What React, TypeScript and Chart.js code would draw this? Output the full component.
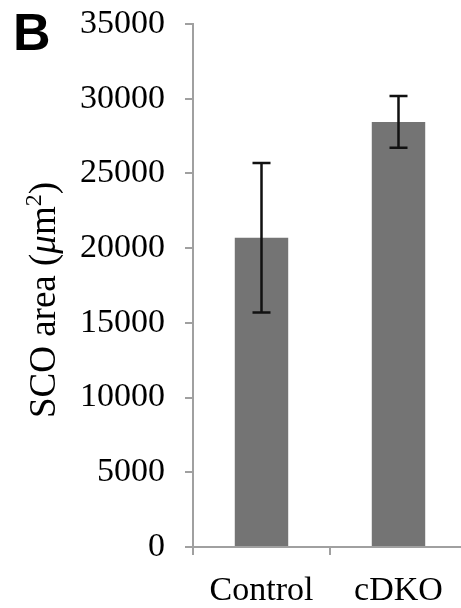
import React, { useEffect, useRef } from "react";
import { Chart, registerables } from "chart.js";

Chart.register(...registerables);

const categories = ["Control", "cDKO"];
const means = [20700, 28450];
const errors = [5000, 1730];
const yTicks = [0, 5000, 10000, 15000, 20000, 25000, 30000, 35000];

const SERIF = "'Liberation Serif', 'Times New Roman', serif";

const errorBarPlugin = {
  id: "errorBars",
  afterDatasetsDraw(chart: any) {
    const ctx = chart.ctx;
    const meta = chart.getDatasetMeta(0);
    const y = chart.scales.y;
    ctx.save();
    ctx.strokeStyle = "#111111";
    ctx.lineWidth = 2.5;
    meta.data.forEach((bar: any, i: number) => {
      const x = bar.x;
      const top = y.getPixelForValue(means[i] + errors[i]);
      const bot = y.getPixelForValue(means[i] - errors[i]);
      ctx.beginPath();
      ctx.moveTo(x, top);
      ctx.lineTo(x, bot);
      ctx.moveTo(x - 9, top);
      ctx.lineTo(x + 9, top);
      ctx.moveTo(x - 9, bot);
      ctx.lineTo(x + 9, bot);
      ctx.stroke();
    });
    ctx.restore();
  },
};

const textPlugin = {
  id: "extraText",
  afterDraw(chart: any) {
    const ctx = chart.ctx;
    ctx.save();
    // panel letter
    ctx.fillStyle = "#000";
    ctx.font = "bold 52px 'Liberation Sans', Arial, sans-serif";
    ctx.textBaseline = "alphabetic";
    ctx.textAlign = "left";
    ctx.fillText("B", 13, 50);
    // y-axis title
    const cy = 300;
    ctx.translate(55, cy);
    ctx.rotate(-Math.PI / 2);
    const segs = [
      { t: "SCO area (", f: `37px ${SERIF}`, dy: 0 },
      { t: "\u03bc", f: `italic 37px ${SERIF}`, dy: 0 },
      { t: "m", f: `37px ${SERIF}`, dy: 0 },
      { t: "2", f: `24px ${SERIF}`, dy: -14 },
      { t: ")", f: `37px ${SERIF}`, dy: 0 },
    ];
    let total = 0;
    const widths = segs.map((s) => {
      ctx.font = s.f;
      const w = ctx.measureText(s.t).width;
      total += w;
      return w;
    });
    let x = -total / 2;
    segs.forEach((s, i) => {
      ctx.font = s.f;
      ctx.fillText(s.t, x, s.dy);
      x += widths[i];
    });
    ctx.restore();
  },
};

export default function App() {
  const ref = useRef<HTMLCanvasElement | null>(null);
  useEffect(() => {
    if (!ref.current) return;
    const chart = new Chart(ref.current, {
      type: "bar",
      data: {
        labels: categories,
        datasets: [
          {
            data: means,
            backgroundColor: "#747474",
            borderWidth: 0,
            categoryPercentage: 1,
            barPercentage: 0.39,
          },
        ],
      },
      options: {
        responsive: false,
        animation: false,
        devicePixelRatio: 1,
        layout: { padding: { left: 0, right: 3, top: 24, bottom: 0 } },
        plugins: { legend: { display: false }, tooltip: { enabled: false } },
        scales: {
          x: {
            grid: {
              drawOnChartArea: false,
              drawTicks: true,
              tickLength: 8,
              color: "#a0a0a0",
              lineWidth: 2,
              offset: true,
            },
            border: { color: "#a0a0a0", width: 2 },
            ticks: {
              color: "#000",
              font: { family: SERIF, size: 34 },
              padding: 16,
            },
            afterFit(scale: any) {
              scale.height = 61;
              scale.paddingLeft = 0;
              scale.paddingRight = 0;
            },
          },
          y: {
            min: 0,
            max: 35000,
            afterBuildTicks(scale: any) {
              scale.ticks = yTicks.map((v) => ({ value: v }));
            },
            grid: {
              drawOnChartArea: false,
              drawTicks: true,
              tickLength: 8,
              color: "#a0a0a0",
              lineWidth: 2,
            },
            border: { color: "#a0a0a0", width: 2 },
            ticks: {
              color: "#000",
              font: { family: SERIF, size: 34 },
              padding: 20,
              callback: (v: any) => String(v),
            },
            afterFit(scale: any) {
              scale.width = 193;
              scale.paddingTop = 0;
              scale.paddingBottom = 0;
            },
          },
        },
      },
      plugins: [errorBarPlugin, textPlugin],
    });
    return () => chart.destroy();
  }, []);
  return (
    <div
      style={{
        position: "fixed",
        left: 0,
        top: 0,
        width: 461,
        height: 608,
        overflow: "hidden",
        background: "#fff",
      }}
    >
      <canvas ref={ref} width={470} height={608} style={{ display: "block" }} />
    </div>
  );
}
